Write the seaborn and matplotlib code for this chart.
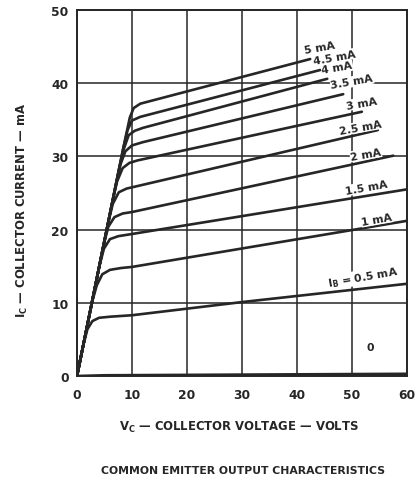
import numpy as np
import pandas as pd
import matplotlib
matplotlib.use("Agg")
import matplotlib.pyplot as plt
import seaborn as sns

# ---- data (Vc in volts, Ic in mA) ----
ib_labels = ["0", "0.5", "1", "1.5", "2", "2.5", "3", "3.5", "4", "4.5", "5"]

v_0 = [0, 5, 60]
i_0 = [0, 0.1, 0.3]

v_05 = [0, 1.2, 1.9, 2.8, 4, 6, 10, 30, 60]
i_05 = [0, 4.4, 6.4, 7.5, 7.95, 8.1, 8.3, 10.1, 12.6]

v_1 = [0, 2.7, 3.6, 4.6, 6, 8, 10, 60]
i_1 = [0, 10.0, 12.4, 13.9, 14.5, 14.75, 14.9, 21.2]

v_15 = [0, 4.0, 4.9, 6.0, 7.5, 10, 60]
i_15 = [0, 14.8, 17.4, 18.7, 19.1, 19.4, 25.5]

v_2 = [0, 4.8, 5.7, 6.8, 8.3, 10, 57.5]
i_2 = [0, 17.8, 20.4, 21.7, 22.2, 22.4, 30.1]

v_25 = [0, 5.6, 6.5, 7.6, 9, 11, 54.7]
i_25 = [0, 20.7, 23.5, 25.1, 25.6, 25.95, 33.6]

v_3 = [0, 6.4, 7.3, 8.3, 9.5, 11, 51.8]
i_3 = [0, 23.7, 26.6, 28.4, 29.1, 29.45, 36.1]

v_35 = [0, 7.0, 7.9, 8.8, 10, 12, 48.4]
i_35 = [0, 25.9, 28.9, 30.7, 31.5, 31.95, 38.5]

v_4 = [0, 7.6, 8.5, 9.4, 10.5, 12, 45.5]
i_4 = [0, 28.1, 31.0, 32.9, 33.5, 33.9, 40.6]

v_45 = [0, 8.4, 9.2, 10.0, 11.5, 44.2]
i_45 = [0, 31.1, 33.6, 34.9, 35.4, 41.8]

v_5 = [0, 8.8, 9.6, 10.3, 11.5, 42.4]
i_5 = [0, 32.5, 35.3, 36.6, 37.2, 43.3]

curve_v = [v_0, v_05, v_1, v_15, v_2, v_25, v_3, v_35, v_4, v_45, v_5]
curve_i = [i_0, i_05, i_1, i_15, i_2, i_25, i_3, i_35, i_4, i_45, i_5]

# curve labels: text, position (V, mA)
label_text = ["0", "I$_{\\rm B}$ = 0.5 mA", "1 mA", "1.5 mA", "2 mA", "2.5 mA",
              "3 mA", "3.5 mA", "4 mA", "4.5 mA", "5 mA"]
label_v = [53.3, 52.0, 54.5, 52.7, 52.5, 51.5, 51.8, 50.0, 47.3, 46.9, 44.2]
label_i = [3.9, 13.5, 21.4, 25.8, 30.3, 34.0, 37.3, 40.2, 42.1, 43.6, 44.9]

x_ticks = [0, 10, 20, 30, 40, 50, 60]
y_ticks = [0, 10, 20, 30, 40, 50]

# ---- build long-form table ----
rows = []
for lab, vs, cs in zip(ib_labels, curve_v, curve_i):
    for v, c in zip(vs, cs):
        rows.append({"ib": lab, "vc": v, "ic": c})
df = pd.DataFrame(rows)

sns.set_theme(style="white")
ink = "#262626"
plt.rcParams["font.family"] = ["DejaVu Sans"]
plt.rcParams["mathtext.fontset"] = "custom"
plt.rcParams["mathtext.rm"] = "DejaVu Sans:bold"
plt.rcParams["mathtext.default"] = "rm"

fig = plt.figure(figsize=(4.19, 4.81), dpi=100)
ax = fig.add_axes([77 / 419, 1 - 377 / 481, 330 / 419, 366 / 481])

sns.lineplot(data=df, x="vc", y="ic", hue="ib", units="ib", estimator=None,
             sort=False, palette=[ink] * len(ib_labels), linewidth=1.9,
             legend=False, ax=ax, zorder=3)

ax.set_xlim(0, 60)
ax.set_ylim(0, 50)
ax.set_xticks(x_ticks)
ax.set_yticks(y_ticks)
ax.set_xticklabels([str(t) for t in x_ticks], fontsize=8.8, fontweight="bold", color=ink)
ax.set_yticklabels([str(t) for t in y_ticks], fontsize=8.8, fontweight="bold", color=ink)
ax.tick_params(axis="x", length=0, pad=9)
ax.tick_params(axis="y", length=0, pad=6)
ax.grid(True, color=ink, linewidth=1.1)
for s in ax.spines.values():
    s.set_color(ink)
    s.set_linewidth(1.4)
ax.set_xlabel("")
ax.set_ylabel("")

for t, v, c in zip(label_text, label_v, label_i):
    ax.text(v, c, t, fontsize=7.8, fontweight="bold", color=ink,
            ha="center", va="center", rotation=10 if t != "0" else 0,
            zorder=4, bbox=dict(boxstyle="square,pad=0.05", fc="white", ec="none"))

fig.text(239 / 419, 1 - 427 / 481, "V$_{\\rm C}$ — COLLECTOR VOLTAGE — VOLTS",
         ha="center", va="center", fontsize=8.4, fontweight="bold", color=ink)
fig.text(22 / 419, 1 - 210 / 481, "I$_{\\rm C}$ — COLLECTOR CURRENT — mA",
         ha="center", va="center", rotation=90, fontsize=8.4, fontweight="bold", color=ink)
fig.text(243 / 419, 1 - 471 / 481, "COMMON EMITTER OUTPUT CHARACTERISTICS",
         ha="center", va="center", fontsize=7.8, fontweight="bold", color=ink)

fig.savefig("out.png", dpi=100, facecolor="white")
